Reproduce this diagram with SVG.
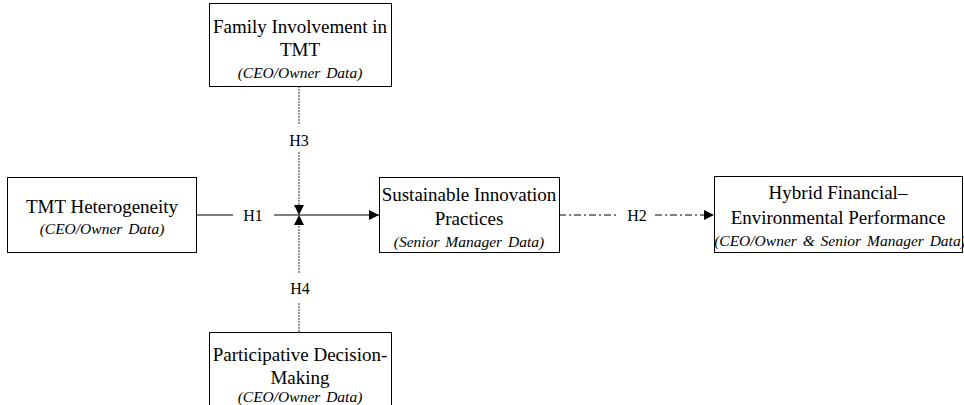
<svg xmlns="http://www.w3.org/2000/svg" width="964" height="405" viewBox="0 0 964 405">
  <style>
    .box { fill: #ffffff; stroke: #000000; stroke-width: 1; }
    .t { font-family: 'Liberation Serif', 'DejaVu Serif', serif; font-size: 19px; fill: #000000; text-anchor: middle; }
    .s { font-family: 'Liberation Serif', 'DejaVu Serif', serif; font-size: 15.5px; font-style: italic; fill: #000000; text-anchor: middle; word-spacing: 2px; }
    .solid { stroke: #000000; stroke-width: 1.2; fill: none; }
    .dash { stroke: #333333; stroke-width: 1; stroke-dasharray: 2 1; fill: none; }
    .dashdot { stroke: #000000; stroke-width: 1; stroke-dasharray: 7 3 2 3; fill: none; }
    .lbl { font-family: 'Liberation Serif', 'DejaVu Serif', serif; font-size: 16px; fill: #000000; text-anchor: middle; }
  </style>
  <defs>
    <marker id="arr" viewBox="0 0 10 10" refX="10" refY="5" markerWidth="10" markerHeight="10" markerUnits="userSpaceOnUse" orient="auto">
      <path d="M0,0 L10,5 L0,10 Z" fill="#000000"/>
    </marker>
  </defs>

  <g id="connectors">
    <line class="solid" x1="197" y1="215" x2="233" y2="215"/>
    <line class="solid" x1="274" y1="215" x2="379" y2="215" marker-end="url(#arr)"/>
    <text class="lbl" x="253" y="221">H1</text>
    <line class="dashdot" x1="559" y1="215" x2="618" y2="215"/>
    <line class="dashdot" x1="655" y1="215" x2="714" y2="215" marker-end="url(#arr)"/>
    <text class="lbl" x="637" y="221">H2</text>
    <line class="dash" x1="299" y1="86" x2="299" y2="125"/>
    <line class="dash" x1="299" y1="152" x2="299" y2="215" marker-end="url(#arr)"/>
    <text class="lbl" x="299" y="146">H3</text>
    <line class="dash" x1="299" y1="332" x2="299" y2="302"/>
    <line class="dash" x1="299" y1="273" x2="299" y2="215" marker-end="url(#arr)"/>
    <text class="lbl" x="300" y="294">H4</text>
  </g>

  <g id="family">
    <rect class="box" x="209.5" y="3.5" width="182" height="83"/>
    <text class="t" x="300" y="33">Family Involvement in</text>
    <text class="t" x="300" y="56">TMT</text>
    <text class="s" x="300" y="78">(CEO/Owner Data)</text>
  </g>

  <g id="tmt">
    <rect class="box" x="7.5" y="177.5" width="189" height="75"/>
    <text class="t" x="102" y="213">TMT Heterogeneity</text>
    <text class="s" x="102" y="234">(CEO/Owner Data)</text>
  </g>

  <g id="sip">
    <rect class="box" x="379.5" y="177.5" width="180" height="75"/>
    <text class="t" x="469" y="201">Sustainable Innovation</text>
    <text class="t" x="469" y="225">Practices</text>
    <text class="s" x="469" y="247">(Senior Manager Data)</text>
  </g>

  <g id="hybrid">
    <rect class="box" x="714.5" y="176.5" width="248" height="76"/>
    <text class="t" x="838" y="199">Hybrid Financial–</text>
    <text class="t" x="838" y="224">Environmental Performance</text>
    <text class="s" x="840" y="246">(CEO/Owner &amp; Senior Manager Data)</text>
  </g>

  <g id="pdm">
    <rect class="box" x="209.5" y="332.5" width="182" height="80"/>
    <text class="t" x="300" y="361">Participative Decision-</text>
    <text class="t" x="300" y="384">Making</text>
    <text class="s" x="300" y="402">(CEO/Owner Data)</text>
  </g>
</svg>
